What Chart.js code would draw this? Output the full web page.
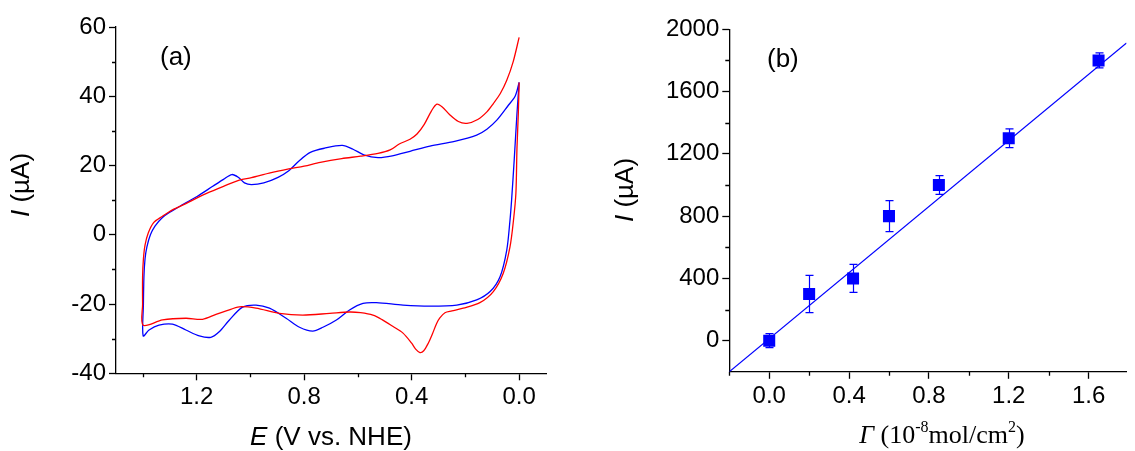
<!DOCTYPE html>
<html>
<head>
<meta charset="utf-8">
<title>CV and current vs surface coverage</title>
<script src="https://cdn.jsdelivr.net/npm/chart.js@4.4.0/dist/chart.umd.min.js"></script>
<style>
  html, body { margin: 0; padding: 0; background: #fff; }
  #wrap { position: relative; width: 1135px; height: 451px; overflow: hidden; }
  canvas { position: absolute; top: 0; }
  #cvChart { left: 0; }
  #fitChart { left: 568px; }
</style>
</head>
<body>
<div id="wrap">
  <canvas id="cvChart" width="568" height="451"></canvas>
  <canvas id="fitChart" width="567" height="451"></canvas>
</div>
<script>
// Panel (a): cyclic voltammograms, E (V vs. NHE) and I (uA)
// each curve: down from 0.0 V along the lower branch to 1.4 V, then back along the upper branch
const redE = [0.000, 0.003, 0.008, 0.012, 0.021, 0.034, 0.059, 0.096, 0.146, 0.208, 0.250, 0.276, 0.295, 0.307,
  0.322, 0.338, 0.355, 0.369, 0.385, 0.400, 0.432, 0.469, 0.510, 0.544, 0.590, 0.631, 0.705, 0.805, 0.892,
  0.979, 1.041, 1.090, 1.128, 1.178, 1.240, 1.327, 1.399,
  1.401, 1.401, 1.398, 1.392, 1.380, 1.360, 1.330, 1.290, 1.240, 1.200, 1.165, 1.100, 1.041, 0.996, 0.930,
  0.857, 0.800, 0.740, 0.660, 0.590, 0.525, 0.480, 0.446, 0.406, 0.380, 0.353, 0.326, 0.306, 0.286, 0.260,
  0.226, 0.194, 0.154, 0.120, 0.096, 0.070, 0.046, 0.022, 0.000];
const redI = [44.0, 35.0, 25.0, 12.0, 4.2, -3.5, -11.1, -16.4, -19.6, -21.2, -22.0, -22.5, -24.0, -25.6,
  -28.5, -31.3, -33.5, -34.0, -33.0, -31.3, -28.4, -26.5, -24.5, -23.2, -22.5, -22.3, -22.7, -23.2, -22.7,
  -21.2, -20.8, -22.0, -23.0, -24.4, -24.1, -24.6, -26.1,
  -20.0, -12.0, -7.0, -3.0, 0.5, 3.5, 5.2, 7.2, 9.0, 10.6, 11.9, 14.0, 15.8, 16.5, 17.8,
  19.0, 19.8, 20.9, 22.0, 22.7, 23.5, 24.5, 26.2, 27.6, 29.1, 31.9, 35.8, 37.7, 36.9, 34.8,
  32.7, 32.2, 33.3, 35.5, 37.9, 40.8, 44.6, 50.0, 57.0];

const blueE = [0.000, 0.008, 0.018, 0.028, 0.034, 0.046, 0.071, 0.108, 0.158, 0.232, 0.332, 0.432, 0.531,
  0.581, 0.631, 0.680, 0.730, 0.768, 0.817, 0.867, 0.929, 0.979, 1.029, 1.078, 1.116, 1.147, 1.190, 1.240,
  1.290, 1.340, 1.377, 1.399,
  1.398, 1.396, 1.392, 1.385, 1.372, 1.355, 1.330, 1.300, 1.250, 1.200, 1.140, 1.100, 1.069, 1.045, 1.022,
  0.996, 0.950, 0.897, 0.857, 0.818, 0.777, 0.724, 0.658, 0.618, 0.578, 0.525, 0.472, 0.406, 0.332, 0.240,
  0.158, 0.120, 0.083, 0.040, 0.015, 0.000];
const blueI = [44.0, 35.0, 22.0, 10.0, 4.2, -4.4, -12.1, -16.4, -18.8, -20.3, -20.6, -20.3, -19.6,
  -19.8, -21.7, -24.6, -26.7, -27.8, -26.7, -24.1, -21.2, -20.3, -20.9, -24.6, -28.0, -29.6, -29.2, -27.5,
  -25.8, -26.1, -27.5, -29.2,
  -20.0, -12.0, -7.0, -3.5, 0.0, 2.5, 4.8, 6.5, 8.8, 11.0, 14.0, 16.0, 17.4, 16.6, 15.0,
  14.5, 15.0, 16.6, 18.5, 21.4, 23.8, 25.0, 25.8, 24.7, 23.1, 22.3, 22.8, 24.1, 25.6, 27.0,
  28.8, 30.5, 33.1, 37.4, 40.0, 44.0];

// Panel (b): current against surface coverage
const gamma = [0.0, 0.2, 0.42, 0.6, 0.85, 1.2, 1.65];
const current = [0, 300, 400, 800, 1000, 1300, 1800];
const currentErr = [45, 120, 90, 100, 60, 60, 48];
const fitX = [-0.2, 1.79];
const fitY = [-200, 1912];

// tick values
const cvXMajor = [1.2, 0.8, 0.4, 0.0];
const cvXMinor = [1.4, 1.0, 0.6, 0.2];
const cvYMajor = [-40, -20, 0, 20, 40, 60];
const cvYMinor = [-30, -10, 10, 30, 50];
const fitXMajor = [0.0, 0.4, 0.8, 1.2, 1.6];
const fitXMinor = [-0.2, 0.2, 0.6, 1.0, 1.4];
const fitYMajor = [0, 400, 800, 1200, 1600, 2000];
const fitYMinor = [200, 600, 1000, 1400, 1800];

const SANS = '"Liberation Sans", Arial, sans-serif';
const SERIF = '"Liberation Serif", "Times New Roman", serif';

function toPoints(xs, ys) {
  return xs.map((x, i) => ({ x: x, y: ys[i] }));
}

function axis(min, max, major, fmt, extra) {
  return Object.assign({
    type: 'linear',
    min: min,
    max: max,
    afterBuildTicks: s => { s.ticks = major.map(v => ({ value: v })); },
    grid: { drawOnChartArea: false, color: '#000', tickLength: 7, tickWidth: 1.3 },
    border: { display: true, color: '#000', width: 1.3 },
    ticks: {
      color: '#000', font: { family: SANS, size: 24 }, padding: 3,
      autoSkip: false, maxRotation: 0, callback: fmt
    }
  }, extra);
}

// short minor ticks, placed through the chart's own scales
function minorTicks(xs, ys) {
  return {
    id: 'minorTicks',
    afterDraw(chart) {
      const { ctx, scales } = chart;
      ctx.save();
      ctx.strokeStyle = '#000';
      ctx.lineWidth = 1.3;
      ctx.beginPath();
      xs.forEach(v => {
        const px = Math.round(scales.x.getPixelForValue(v)) + 0.5;
        ctx.moveTo(px, scales.x.top);
        ctx.lineTo(px, scales.x.top + 4);
      });
      ys.forEach(v => {
        const py = Math.round(scales.y.getPixelForValue(v)) + 0.5;
        ctx.moveTo(scales.y.right, py);
        ctx.lineTo(scales.y.right - 4, py);
      });
      ctx.stroke();
      ctx.restore();
    }
  };
}

// axis titles and panel letters with mixed italic / superscript runs
function drawRich(ctx, pieces, x, y, rotate, align) {
  let w = 0;
  pieces.forEach(p => { ctx.font = p.font; p.w = ctx.measureText(p.text).width; w += p.w; });
  ctx.save();
  ctx.translate(x, y);
  if (rotate) ctx.rotate(-Math.PI / 2);
  ctx.textBaseline = 'alphabetic';
  ctx.textAlign = 'left';
  ctx.fillStyle = '#000';
  let cx = align === 'left' ? 0 : -w / 2;
  pieces.forEach(p => {
    ctx.font = p.font;
    ctx.fillText(p.text, cx, p.dy || 0);
    cx += p.w;
  });
  ctx.restore();
}

function labels(items) {
  return {
    id: 'labels',
    afterDraw(chart) {
      items.forEach(it => drawRich(chart.ctx, it.pieces, it.x, it.y, it.rotate, it.align));
    }
  };
}

const errorBars = {
  id: 'errorBars',
  afterDatasetsDraw(chart) {
    const { ctx, scales: { x, y } } = chart;
    ctx.save();
    ctx.strokeStyle = '#0000ff';
    ctx.lineWidth = 1.2;
    ctx.beginPath();
    gamma.forEach((g, i) => {
      const px = Math.round(x.getPixelForValue(g)) + 0.5;
      const top = y.getPixelForValue(current[i] + currentErr[i]);
      const bot = y.getPixelForValue(current[i] - currentErr[i]);
      ctx.moveTo(px, top); ctx.lineTo(px, bot);
      ctx.moveTo(px - 4, top); ctx.lineTo(px + 4, top);
      ctx.moveTo(px - 4, bot); ctx.lineTo(px + 4, bot);
    });
    ctx.stroke();
    ctx.restore();
  }
};

const TITLE = 26;
const sansIt = `italic ${TITLE}px ${SANS}`;
const sans = `${TITLE}px ${SANS}`;

// Panel (a)
new Chart(document.getElementById('cvChart'), {
  type: 'scatter',
  data: {
    datasets: [
      { data: toPoints(redE, redI), showLine: true, borderColor: '#ff0000', borderWidth: 1.3, pointRadius: 0, tension: 0.3 },
      { data: toPoints(blueE, blueI), showLine: true, borderColor: '#0000ff', borderWidth: 1.3, pointRadius: 0, tension: 0.3 }
    ]
  },
  options: {
    responsive: false,
    animation: false,
    layout: { padding: { top: 27, right: 22, left: 0, bottom: 0 } },
    plugins: { legend: { display: false }, tooltip: { enabled: false } },
    scales: {
      x: axis(-0.1, 1.5, cvXMajor, v => v.toFixed(1), { reverse: true, afterFit: s => { s.height = 77.7; } }),
      y: axis(-40, 60, cvYMajor, v => String(v), { afterFit: s => { s.width = 116; } })
    }
  },
  plugins: [minorTicks(cvXMinor, cvYMinor), labels([
    { pieces: [{ text: 'E', font: sansIt }, { text: ' (V vs. NHE)', font: sans }], x: 331, y: 445 },
    { pieces: [{ text: 'I', font: sansIt }, { text: ' (\u00b5A)', font: sans }], x: 29, y: 185, rotate: true },
    { pieces: [{ text: '(a)', font: sans }], x: 160, y: 65, align: 'left' }
  ])]
});

// Panel (b)
const serif = `26px ${SERIF}`;
const serifIt = `italic 26px ${SERIF}`;
const serifSup = `16px ${SERIF}`;

new Chart(document.getElementById('fitChart'), {
  type: 'scatter',
  data: {
    datasets: [
      { data: toPoints(gamma, current), pointStyle: 'rect', pointRadius: 8.5, backgroundColor: '#0000ff', borderWidth: 0 },
      { data: toPoints(fitX, fitY), showLine: true, borderColor: '#0000ff', borderWidth: 1.1, pointRadius: 0 }
    ]
  },
  options: {
    responsive: false,
    animation: false,
    layout: { padding: { top: 29.3, right: 0, left: 0, bottom: 0 } },
    plugins: { legend: { display: false }, tooltip: { enabled: false } },
    scales: {
      x: axis(-0.2, 1.79, fitXMajor, v => v.toFixed(1), { afterFit: s => { s.height = 79.2; } }),
      y: axis(-200, 2000, fitYMajor, v => String(v), { afterFit: s => { s.width = 161.3; } })
    }
  },
  plugins: [errorBars, minorTicks(fitXMinor, fitYMinor), labels([
    { pieces: [
        { text: '\u0393', font: serifIt }, { text: ' (10', font: serif },
        { text: '-8', font: serifSup, dy: -11 }, { text: 'mol/cm', font: serif },
        { text: '2', font: serifSup, dy: -11 }, { text: ')', font: serif }
      ], x: 374, y: 443 },
    { pieces: [{ text: 'I', font: sansIt }, { text: ' (\u00b5A)', font: sans }], x: 65, y: 190, rotate: true },
    { pieces: [{ text: '(b)', font: sans }], x: 199, y: 67, align: 'left' }
  ])]
});
</script>
</body>
</html>
